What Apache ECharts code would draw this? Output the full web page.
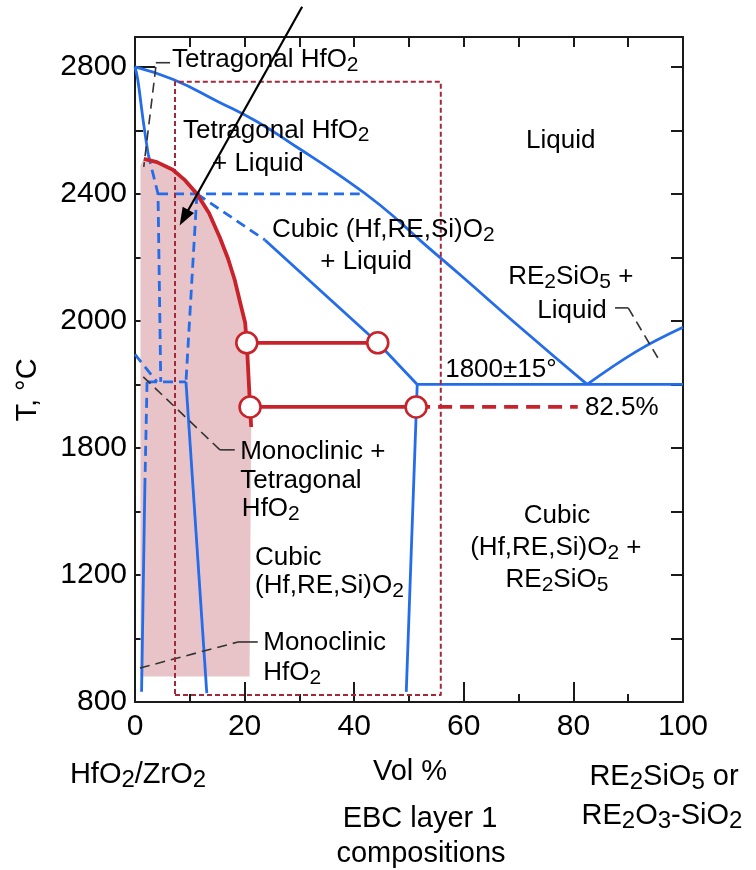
<!DOCTYPE html>
<html>
<head>
<meta charset="utf-8">
<script src="https://cdn.jsdelivr.net/npm/echarts@6/dist/echarts.min.js"></script>
<style>
  html, body { margin: 0; padding: 0; background: #fff; }
  #chart { width: 756px; height: 870px; }
</style>
</head>
<body>
<div id="chart"></div>
<script>
// ---- axis ticks ----
const xTickValues = [0, 20, 40, 60, 80, 100];
const yTickValues = [800, 1200, 1600, 2000, 2400, 2800];
const yTickLabels = ['800', '1200', '1800', '2000', '2400', '2800'];
const yMinorTicks = [1000, 1400, 1800, 2200, 2600];
const yRightTicks = [800, 1000, 1200, 1400, 1600, 1800, 2000, 2200, 2400, 2600, 2800];

// ---- phase boundaries (vol % RE2SiO5, temperature °C) ----
const liquidus = [[0, 2800], [7, 2760], [15, 2692], [22.3, 2627], [30, 2542], [37, 2462], [44.7, 2365], [52.6, 2245], [60, 2135], [70, 1984], [82.5, 1800]];
const liquidusSilicate = [[82.5, 1800], [91.6, 1905], [100, 1980]];
const solidusTetragonal = [[0, 2800], [0.5, 2760], [1.5, 2630], [2.4, 2525]];
const tetragonalSolvusA = [[2.4, 2525], [4.2, 2400], [4.7, 1808]];
const tetragonalSolvusB = [[11.3, 2400], [9.3, 1808]];
const peritectic = [[4.2, 2400], [41, 2400]];
const cubicSolvusUpper = [[11.3, 2400], [23.7, 2255]];
const cubicSolvus = [[23.7, 2255], [44.3, 1931], [51.5, 1800]];
const cubicSolvusLow = [[51.5, 1800], [49.5, 832]];
const eutectic = [[51.5, 1800], [100, 1800]];
const monoTetraTransition = [[0, 1895], [4.0, 1808]];
const eutectoid = [[2.2, 1808], [9.3, 1808]];
const monoSolvusUpper = [[2.2, 1808], [1.8, 1480]];
const monoSolvus = [[1.8, 1480], [1.2, 832]];
const cubicMonoSolvus = [[9.3, 1808], [13.1, 828]];

// ---- fluorite-phase boundary and tie lines ----
const fluoriteBoundary = [[1.6, 2510], [4, 2500], [6.9, 2476], [9, 2445], [11.3, 2400], [13.5, 2340], [15.5, 2262], [17, 2195], [18.2, 2129], [19.3, 2050], [20.1, 1994], [20.4, 1931], [20.7, 1830], [21.0, 1729], [21.2, 1666]];
const tieLineUpper = [[20.4, 1931], [44.3, 1931]];
const tieLineLower = [[21.0, 1729], [51.3, 1729]];
const tieLineExtension = [[51.3, 1729], [80.8, 1729]];
const tiePoints = [[20.4, 1931], [44.3, 1931], [21.0, 1729], [51.3, 1729]];

// ---- EBC layer 1 composition window and shaded stable range ----
const ebcBox = [[7.3, 822], [55.8, 822], [55.8, 2753], [7.3, 2753], [7.3, 822]];
const stableRegion = [[1.0, 880], [1.0, 2490]].concat(fluoriteBoundary, [[20.9, 880]]);

// ---- label leaders and pointer ----
const leaderTetraSolid = [[6.4, 2813], [3.8, 2813]];
const leaderTetraDash = [[3.8, 2800], [1.6, 2485]];
const leaderMonoTetraDash = [[1.5, 1824], [15.5, 1594]];
const leaderMonoTetraSolid = [[15.5, 1594], [18.2, 1594]];
const leaderMonoDash = [[0.9, 907], [18.8, 989]];
const leaderMonoSolid = [[18.8, 989], [22.4, 989]];
const leaderSilicateSolid = [[87.6, 2041], [90.0, 2041]];
const leaderSilicateDash = [[90.0, 2041], [95.4, 1884]];
const pointerArrow = [[30.5, 2989], [8.94, 2325]];

// ---- region labels: text, x, T, anchor ----
const regionLabels = [
  ['{t|Tetragonal HfO}{s|2}', 6.75, 2822, 'left'],
  ['{t|Tetragonal HfO}{s|2}', 8.76, 2599, 'left'],
  ['{t|+ Liquid}', 14.05, 2495, 'left'],
  ['{t|Liquid}', 77.7, 2567, 'center'],
  ['{t|Cubic (Hf,RE,Si)O}{s|2}', 25.0, 2287, 'left'],
  ['{t|+ Liquid}', 33.8, 2186, 'left'],
  ['{t|RE}{s|2}{t|SiO}{s|5}{t| +}', 68.1, 2139, 'left'],
  ['{t|Liquid}', 73.4, 2032, 'left'],
  ['{t|1800±15°}', 56.6, 1846, 'left'],
  ['{t|82.5%}', 82.1, 1726, 'left'],
  ['{t|Monoclinic +}', 19.2, 1588, 'left'],
  ['{t|Tetragonal}', 19.2, 1496, 'left'],
  ['{t|HfO}{s|2}', 19.5, 1408, 'left'],
  ['{t|Cubic}', 21.9, 1254, 'left'],
  ['{t|(Hf,RE,Si)O}{s|2}', 21.9, 1165, 'left'],
  ['{t|Monoclinic}', 23.4, 986, 'left'],
  ['{t|HfO}{s|2}', 23.4, 891, 'left'],
  ['{t|Cubic}', 77.0, 1386, 'center'],
  ['{t|(Hf,RE,Si)O}{s|2}{t| +}', 76.8, 1285, 'center'],
  ['{t|RE}{s|2}{t|SiO}{s|5}', 77.0, 1184, 'center']
];

const FONT = '"Liberation Sans", Arial, sans-serif';
const INK = '#000000';
const BLUE = '#236cea';
const RED = '#c8232b';
const BOX_RED = '#a3283a';
const DASH = [10, 6];

const richSmall = {
  t: { fontFamily: FONT, fontSize: 26, lineHeight: 31, fill: INK },
  s: { fontFamily: FONT, fontSize: 21, lineHeight: 10, verticalAlign: 'bottom', fill: INK }
};
const richLarge = {
  t: { fontFamily: FONT, fontSize: 29, lineHeight: 34, fill: INK },
  s: { fontFamily: FONT, fontSize: 24, lineHeight: 10, verticalAlign: 'bottom', fill: INK }
};

function path(data, color, width, type, z) {
  return {
    type: 'line', data: data, symbol: 'none', silent: true, animation: false,
    clip: false, z: z || 3,
    lineStyle: { color: color, width: width, type: type || 'solid', cap: 'butt', join: 'round' }
  };
}

const series = [
  {
    type: 'custom', z: 1, silent: true, animation: false,
    data: [[0, 0]],
    renderItem: function (params, api) {
      return {
        type: 'polygon',
        shape: { points: stableRegion.map(function (p) { return api.coord(p); }) },
        style: { fill: '#e8c4c8' }
      };
    }
  },
  Object.assign(path(liquidus, BLUE, 2.8, 'solid', 3), { smooth: 0.5 }),
  Object.assign(path(liquidusSilicate, BLUE, 2.8, 'solid', 3), { smooth: 0.4 }),
  Object.assign(path(solidusTetragonal, BLUE, 2.8, 'solid', 3), { smooth: 0.4 }),
  path(tetragonalSolvusA, BLUE, 2.8, DASH),
  path(tetragonalSolvusB, BLUE, 2.8, DASH),
  path(peritectic, BLUE, 2.8, DASH),
  path(cubicSolvusUpper, BLUE, 2.8, DASH),
  path(cubicSolvus, BLUE, 2.8),
  path(cubicSolvusLow, BLUE, 2.8),
  path(eutectic, BLUE, 2.8),
  path(monoTetraTransition, BLUE, 2.8, DASH),
  path(eutectoid, BLUE, 2.8, DASH),
  path(monoSolvusUpper, BLUE, 2.8, DASH),
  path(monoSolvus, BLUE, 2.8),
  path(cubicMonoSolvus, BLUE, 2.8),
  path(ebcBox, BOX_RED, 2, [5, 3], 4),
  path(fluoriteBoundary, RED, 3.8, 'solid', 5),
  path(tieLineUpper, RED, 3.8, 'solid', 5),
  path(tieLineLower, RED, 3.8, 'solid', 5),
  path(tieLineExtension, RED, 3.8, [14, 8], 5),
  {
    type: 'scatter', data: tiePoints, symbol: 'circle', symbolSize: 21,
    silent: true, animation: false, z: 6,
    itemStyle: { color: '#ffffff', borderColor: RED, borderWidth: 2.6, opacity: 1 }
  },
  path(leaderTetraSolid, '#333', 1.6),
  path(leaderTetraDash, '#333', 1.6, DASH),
  path(leaderMonoTetraDash, '#333', 1.6, DASH),
  path(leaderMonoTetraSolid, '#333', 1.6),
  path(leaderMonoDash, '#333', 1.6, DASH),
  path(leaderMonoSolid, '#333', 1.6),
  path(leaderSilicateSolid, '#333', 1.6),
  path(leaderSilicateDash, '#333', 1.6, DASH),
  {
    type: 'line', silent: true, animation: false, clip: false, z: 8,
    data: [
      { value: pointerArrow[0], symbol: 'none' },
      { value: pointerArrow[1], symbol: 'triangle', symbolSize: [13, 18], symbolRotate: 151 }
    ],
    showSymbol: true, showAllSymbol: true,
    itemStyle: { color: '#000' },
    lineStyle: { color: '#000', width: 2.2 }
  }
];

const bottomTitles = [
  ['{t|HfO}{s|2}{t|/ZrO}{s|2}', 138, 775],
  ['{t|Vol %}', 410, 772],
  ['{t|EBC layer 1}', 420, 819],
  ['{t|compositions}', 421, 854],
  ['{t|RE}{s|2}{t|SiO}{s|5}{t| or}', 664, 777],
  ['{t|RE}{s|2}{t|O}{s|3}{t|-SiO}{s|2}', 662, 816]
];

const graphics = bottomTitles.map(function (b) {
  return {
    type: 'text', x: b[1], y: b[2], silent: true,
    style: { text: b[0], rich: richLarge, fill: INK, align: 'center', verticalAlign: 'middle' }
  };
});
graphics.push({
  type: 'text', x: 28, y: 390, rotation: Math.PI / 2, silent: true,
  style: { text: '{t|T, °C}', rich: richLarge, fill: INK, align: 'center', verticalAlign: 'middle' }
});

const axisLine = { show: true, lineStyle: { color: '#1a1a1a', width: 2 } };

const option = {
  animation: false,
  backgroundColor: '#ffffff',
  grid: { left: 135, right: 73, top: 37, bottom: 168, containLabel: false },
  xAxis: [
    {
      type: 'value', position: 'bottom', min: 0, max: 100, interval: 20,
      axisLine: axisLine,
      axisTick: { show: true, inside: true, length: 20, lineStyle: { color: '#1a1a1a', width: 2 } },
      minorTick: { show: true, splitNumber: 2, length: 8, lineStyle: { color: '#1a1a1a', width: 2 } },
      axisLabel: {
        show: true, margin: 10, color: INK, fontFamily: FONT, fontSize: 30,
        customValues: xTickValues
      },
      splitLine: { show: false }, minorSplitLine: { show: false }
    },
    {
      type: 'value', position: 'top', min: 0, max: 100, interval: 10,
      axisLine: axisLine,
      axisTick: { show: true, inside: true, length: 10, lineStyle: { color: '#1a1a1a', width: 2 } },
      axisLabel: { show: false }, splitLine: { show: false }
    }
  ],
  yAxis: [
    {
      type: 'value', position: 'left', min: 800, max: 2894,
      axisLine: axisLine,
      axisTick: { show: true, inside: true, length: 20, customValues: yTickValues, lineStyle: { color: '#1a1a1a', width: 2 } },
      axisLabel: {
        show: true, margin: 8, color: INK, fontFamily: FONT, fontSize: 30,
        customValues: yTickValues,
        formatter: function (v) {
          const i = yTickValues.indexOf(v);
          return i >= 0 ? yTickLabels[i] : '';
        }
      },
      splitLine: { show: false }
    },
    {
      type: 'value', position: 'left', min: 800, max: 2894,
      axisLine: { show: false },
      axisTick: { show: true, inside: true, length: 8, customValues: yMinorTicks, lineStyle: { color: '#1a1a1a', width: 2 } },
      axisLabel: { show: false }, splitLine: { show: false }
    },
    {
      type: 'value', position: 'right', min: 800, max: 2894,
      axisLine: axisLine,
      axisTick: { show: true, inside: true, length: 12, customValues: yRightTicks, lineStyle: { color: '#1a1a1a', width: 2 } },
      axisLabel: { show: false }, splitLine: { show: false }
    }
  ],
  series: series,
  graphic: graphics
};

const chart = echarts.init(document.getElementById('chart'), null, { renderer: 'canvas' });
chart.setOption(option);

// region names are placed in data coordinates once the axes exist
const regionGraphics = regionLabels.map(function (r) {
  const p = chart.convertToPixel({ xAxisIndex: 0, yAxisIndex: 0 }, [r[1], r[2]]);
  return {
    type: 'text', x: p[0], y: p[1], silent: true, z: 20,
    style: { text: r[0], rich: richSmall, fill: INK, align: r[3], verticalAlign: 'middle' }
  };
});
chart.setOption({ graphic: graphics.concat(regionGraphics) });
</script>
</body>
</html>
